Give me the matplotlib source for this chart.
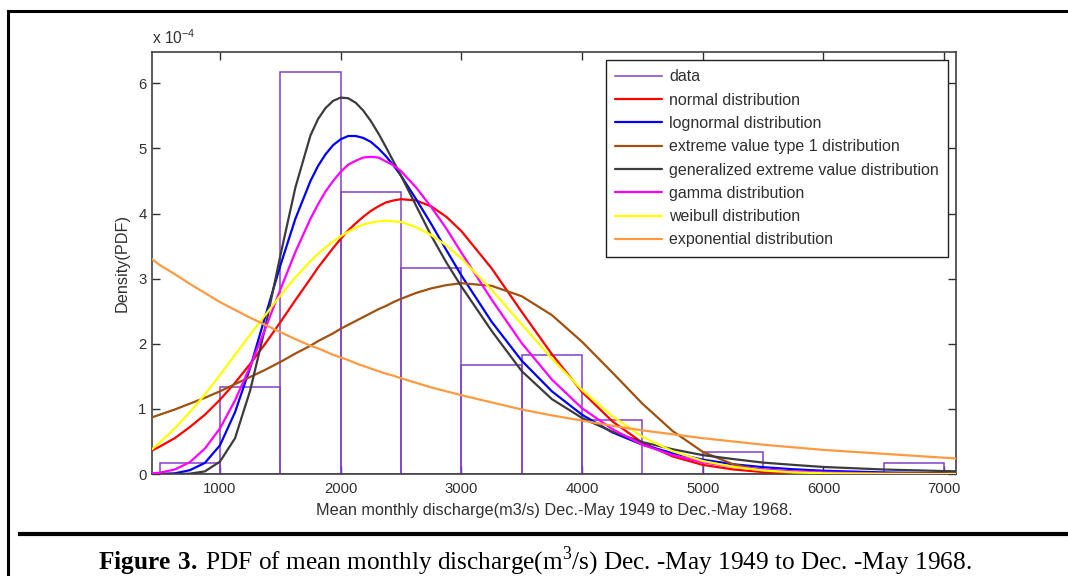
import matplotlib
matplotlib.use("Agg")
import matplotlib.pyplot as plt
from matplotlib.lines import Line2D

plt.rcParams["font.family"] = ["Liberation Sans", "DejaVu Sans"]
plt.rcParams["mathtext.fontset"] = "custom"
plt.rcParams["mathtext.rm"] = "Liberation Serif"
plt.rcParams["mathtext.bf"] = "Liberation Serif:bold"
plt.rcParams["mathtext.sf"] = "Liberation Sans"

# ---- histogram of monthly discharge (Dec.-May, 1949-1968) ----
bin_edges = [500, 1000, 1500, 2000, 2500, 3000, 3500, 4000, 4500,
             5000, 5500, 6000, 6500, 7000]
bin_counts = [1, 8, 37, 26, 19, 10, 11, 5, 0, 2, 0, 0, 1]
n_obs = 120

# ---- fitted PDFs, density in units of 1e-4 ----
x_q = [437, 500, 625, 750, 875, 1000, 1125, 1250, 1375, 1500, 1625, 1750,
       1812.5, 1875, 1937.5, 2000, 2062.5, 2125, 2187.5, 2250, 2312.5, 2375,
       2437.5,
       2500, 2625, 2750, 2875, 3000,
       3250, 3500, 3750, 4000, 4250, 4500, 4750, 5000, 5250, 5500, 5750,
       6000, 6500, 7000, 7098]

normal_pdf = [0.36, 0.42, 0.55, 0.72, 0.91, 1.14, 1.40, 1.69, 2.00, 2.33, 2.67, 3.00,
              3.17, 3.32, 3.47, 3.61, 3.74, 3.85, 3.95, 4.04, 4.11, 4.17, 4.20,
              4.22, 4.20, 4.11, 3.95, 3.73,
              3.16, 2.49, 1.84, 1.26, 0.81, 0.48, 0.27, 0.14, 0.07, 0.03, 0.012,
              0.005, 0.0, 0.0, 0.0]

lognormal_pdf = [0.0, 0.001, 0.01, 0.058, 0.17, 0.44, 0.95, 1.63, 2.42, 3.20, 3.92, 4.50,
                 4.73, 4.91, 5.05, 5.14, 5.19, 5.19, 5.16, 5.10, 5.00, 4.88, 4.74,
                 4.58, 4.22, 3.84, 3.44, 3.05,
                 2.34, 1.74, 1.27, 0.91, 0.64, 0.45, 0.32, 0.22, 0.15, 0.105, 0.073,
                 0.050, 0.024, 0.012, 0.010]

ev1_pdf = [0.87, 0.91, 0.99, 1.08, 1.17, 1.27, 1.38, 1.49, 1.60, 1.72, 1.85, 1.97,
           2.04, 2.10, 2.16, 2.23, 2.29, 2.35, 2.41, 2.47, 2.53, 2.58, 2.64,
           2.69, 2.78, 2.85, 2.90, 2.93,
           2.89, 2.73, 2.44, 2.03, 1.56, 1.08, 0.66, 0.34, 0.15, 0.052, 0.014,
           0.002, 0.0, 0.0, 0.0]

gev_pdf = [0.0, 0.0, 0.0, 0.005, 0.04, 0.19, 0.55, 1.28, 2.25, 3.35, 4.40, 5.20,
           5.45, 5.62, 5.73, 5.78, 5.77, 5.70, 5.58, 5.42, 5.23, 5.02, 4.80,
           4.58, 4.12, 3.66, 3.25, 2.88,
           2.20, 1.58, 1.15, 0.86, 0.65, 0.49, 0.38, 0.29, 0.23, 0.175, 0.14,
           0.108, 0.069, 0.045, 0.042]

gamma_pdf = [0.009, 0.019, 0.069, 0.18, 0.39, 0.70, 1.13, 1.65, 2.23, 2.83, 3.41, 3.92,
             4.14, 4.34, 4.50, 4.64, 4.75, 4.81, 4.86, 4.87, 4.86, 4.80, 4.74,
             4.65, 4.40, 4.10, 3.77, 3.40,
             2.68, 2.01, 1.45, 1.01, 0.69, 0.45, 0.29, 0.18, 0.11, 0.069, 0.041,
             0.024, 0.008, 0.0025, 0.002]

weibull_pdf = [0.38, 0.48, 0.70, 0.95, 1.22, 1.52, 1.83, 2.14, 2.44, 2.74, 3.02, 3.27,
               3.38, 3.48, 3.57, 3.65, 3.72, 3.78, 3.83, 3.86, 3.88, 3.89, 3.88,
               3.87, 3.79, 3.67, 3.51, 3.31,
               2.83, 2.30, 1.77, 1.29, 0.89, 0.57, 0.35, 0.20, 0.11, 0.055, 0.025,
               0.011, 0.0015, 0.0, 0.0]

exponential_pdf = [3.30, 3.21, 3.07, 2.92, 2.78, 2.64, 2.52, 2.40, 2.29, 2.18, 2.07, 1.97,
                   1.93, 1.88, 1.83, 1.79, 1.75, 1.70, 1.66, 1.62, 1.58, 1.54, 1.51,
                   1.47, 1.40, 1.33, 1.27, 1.21,
                   1.10, 0.99, 0.90, 0.82, 0.74, 0.67, 0.61, 0.55, 0.50, 0.45, 0.41,
                   0.37, 0.31, 0.25, 0.24]

series = [
    ("normal distribution", normal_pdf, "#ff0000"),
    ("lognormal distribution", lognormal_pdf, "#0000ff"),
    ("extreme value type 1 distribution", ev1_pdf, "#a0500f"),
    ("generalized extreme value distribution", gev_pdf, "#3c3c3c"),
    ("gamma distribution", gamma_pdf, "#ff00ff"),
    ("weibull distribution", weibull_pdf, "#ffff00"),
    ("exponential distribution", exponential_pdf, "#ff9a40"),
]

x_ticks = [1000, 2000, 3000, 4000, 5000, 6000, 7000]
y_ticks = [0, 1, 2, 3, 4, 5, 6]

W, H = 1068, 576
fig = plt.figure(figsize=(W / 100, H / 100), dpi=100)
fig.patch.set_facecolor("white")

ax_l, ax_r, ax_t, ax_b = 152, 956, 52, 474
ax = fig.add_axes([ax_l / W, 1 - ax_b / H, (ax_r - ax_l) / W, (ax_b - ax_t) / H])

hist_color = "#8040c8"
widths = [bin_edges[i + 1] - bin_edges[i] for i in range(len(bin_counts))]
density = [c / (n_obs * w) * 1e4 for c, w in zip(bin_counts, widths)]
ax.bar(bin_edges[:-1], density, width=widths, align="edge", fill=False,
       edgecolor=hist_color, linewidth=1.1, zorder=2)

handles = [Line2D([], [], color=hist_color, lw=1.1, label="data")]
for i, (name, vals, col) in enumerate(series):
    ln, = ax.plot(x_q, vals, color=col, lw=1.6, label=name, zorder=3 + i,
                  solid_joinstyle="round", solid_capstyle="round")
    handles.append(ln)

ax.set_xlim(437, 7098)
ax.set_ylim(0, 6.48)
ax.set_xticks(x_ticks)
ax.set_yticks(y_ticks)
ax.tick_params(direction="in", length=6, width=1, colors="#303030",
               labelsize=10.7, top=True, right=True)
ax.tick_params(axis="x", pad=6)
ax.tick_params(axis="y", pad=4)
for s in ax.spines.values():
    s.set_color("#404040")
    s.set_linewidth(1.2)

ax.text(0.0, 1.012, r"x 10$^{\mathsf{-4}}$", transform=ax.transAxes,
        fontsize=11.2, color="#303030", va="bottom", ha="left")
ax.set_xlabel("Mean monthly discharge(m3/s) Dec.-May 1949 to Dec.-May 1968.",
              fontsize=11.7, color="#303030", labelpad=4.5)
ax.set_ylabel("Density(PDF)", fontsize=11.7, color="#303030", labelpad=6)

leg = ax.legend(handles=handles, loc="upper right",
                bbox_to_anchor=(0.990, 0.981), borderaxespad=0,
                fontsize=11.5, frameon=True, fancybox=False, framealpha=1,
                edgecolor="#202020", handlelength=2.9, handletextpad=0.45,
                labelspacing=0.52, borderpad=0.58)
leg.get_frame().set_linewidth(1.0)
for t in leg.get_texts():
    t.set_color("#303030")

# page frame and separator rule
def px_line(x0, y0, x1, y1, lw):
    fig.add_artist(Line2D([x0 / W, x1 / W], [1 - y0 / H, 1 - y1 / H],
                          transform=fig.transFigure, color="black", lw=lw))

px_line(8, 11, W, 11, 2.2)
px_line(8, 11, 8, H, 2.2)
px_line(20, 534, W, 534, 3.0)

fig.text(535 / W, 1 - 569 / H,
         r"$\mathbf{Figure\ 3.}\,$PDF of mean monthly discharge(m$^{3}$/s) "
         r"Dec. -May 1949 to Dec. -May 1968.",
         fontsize=18.2, family="Liberation Serif", ha="center", va="baseline")

fig.savefig("out.png", dpi=100)
